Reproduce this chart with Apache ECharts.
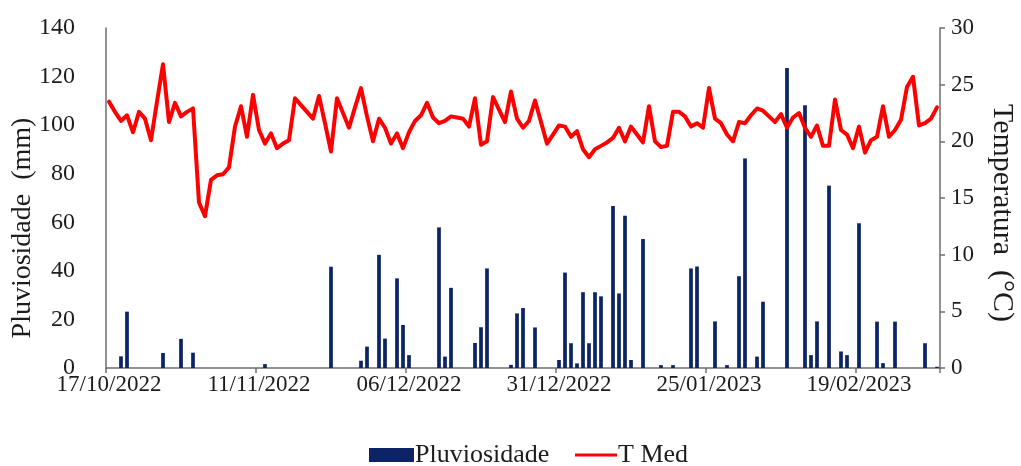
<!DOCTYPE html>
<html>
<head>
<meta charset="utf-8">
<script src="https://cdn.jsdelivr.net/npm/echarts@6/dist/echarts.min.js"></script>
<style>
  html, body { margin: 0; padding: 0; background: #ffffff; }
  #chart { width: 1021px; height: 466px; }
</style>
</head>
<body>
<div id="chart"></div>
<script>
// Daily series, 17/10/2022 to 04/03/2023
const startDate = [2022, 10, 17];
const dayCount = 139;

// Pluviosidade (mm), one value per day
const rainfall = [
  0, 0, 4.8, 23.2, 0, 0, 0, 0, 0, 6.2,
  0, 0, 12, 0, 6.3, 0, 0, 0, 0, 0,
  0, 0, 0, 0, 0, 0, 1.6, 0, 0, 0,
  0, 0, 0, 0, 0, 0, 0, 41.7, 0, 0,
  0, 0, 3.0, 8.8, 0, 46.6, 12.1, 0, 36.9, 17.7,
  5.3, 0, 0, 0, 0, 57.9, 4.7, 33.0, 0, 0,
  0, 10.3, 16.8, 41.0, 0, 0, 0, 1.3, 22.5, 24.7,
  0, 16.7, 0, 0, 0, 3.3, 39.3, 10.2, 1.9, 31.2,
  10.2, 31.2, 29.5, 0, 66.7, 30.7, 62.7, 3.3, 0, 53.1,
  0, 0, 1.2, 0, 1.2, 0, 0, 41.0, 41.8, 0,
  0, 19.2, 0, 1.2, 0, 37.8, 86.3, 0, 4.7, 27.3,
  0, 0, 0, 123.5, 0, 0, 108.2, 5.3, 19.2, 0,
  75.1, 0, 6.8, 5.3, 0, 59.6, 0, 0, 19.1, 2.0,
  0, 19.1, 0, 0, 0, 0, 10.2, 0, 0.5
];

// T Med (°C), one value per day
const tMed = [
  23.5, 22.6, 21.8, 22.3, 20.8, 22.6, 22.0, 20.1, 23.5, 26.8,
  21.7, 23.4, 22.2, 22.6, 22.9, 14.6, 13.4, 16.6, 17.0, 17.1,
  17.7, 21.3, 23.1, 20.4, 24.1, 21.0, 19.8, 20.7, 19.4, 19.8,
  20.1, 23.8, 23.2, 22.6, 22.0, 24.0, 21.6, 19.1, 23.8, 22.5,
  21.2, 23.0, 24.7, 22.2, 20.0, 22.0, 21.2, 19.8, 20.7, 19.4,
  20.8, 21.8, 22.3, 23.4, 22.1, 21.6, 21.8, 22.2, 22.1, 22.0,
  21.3, 23.8, 19.7, 20.0, 23.9, 22.8, 21.7, 24.4, 22.0, 21.2,
  21.8, 23.6, 21.7, 19.8, 20.6, 21.4, 21.3, 20.4, 20.9, 19.3,
  18.6, 19.3, 19.6, 19.9, 20.3, 21.2, 20.0, 21.3, 20.6, 19.9,
  23.1, 20.0, 19.5, 19.6, 22.6, 22.6, 22.2, 21.3, 21.6, 21.2,
  24.7, 22.0, 21.6, 20.6, 20.0, 21.7, 21.6, 22.3, 22.9, 22.7,
  22.2, 21.7, 22.4, 21.2, 22.1, 22.5, 21.2, 20.4, 21.4, 19.6,
  19.6, 23.7, 21.0, 20.6, 19.4, 21.3, 19.0, 20.1, 20.4, 23.1,
  20.4, 21.0, 21.9, 24.8, 25.7, 21.4, 21.6, 22.0, 23.0
];

// Axis ranges and tick labels
const rainTicks = [0, 20, 40, 60, 80, 100, 120, 140];
const tempTicks = [0, 5, 10, 15, 20, 25, 30];
const labelEvery = 25;
const rainTitle = 'Pluviosidade  (mm)';
const tempTitle = 'Temperatura  (°C)';

function pad(n) { return (n < 10 ? '0' : '') + n; }
const dates = [];
for (let i = 0; i < dayCount; i++) {
  const d = new Date(Date.UTC(startDate[0], startDate[1] - 1, startDate[2] + i));
  dates.push(pad(d.getUTCDate()) + '/' + pad(d.getUTCMonth() + 1) + '/' + d.getUTCFullYear());
}

const serif = '"Liberation Serif", "Times New Roman", serif';
const axisGray = '#6e6e6e';
const textColor = '#1c1c1c';
const navy = '#0c2366';
const red = '#ff0000';

const chart = echarts.init(document.getElementById('chart'), null, { renderer: 'canvas' });
chart.setOption({
  animation: false,
  backgroundColor: '#ffffff',
  grid: { left: 106, right: 81, top: 28, bottom: 98, containLabel: false },
  legend: [
    {
      data: [{ name: 'Pluviosidade', icon: 'rect' }],
      left: 364, top: 437,
      itemWidth: 45, itemHeight: 14, itemGap: 0,
      textStyle: { fontFamily: serif, fontSize: 26, color: textColor, padding: [0, 0, 0, -4] }
    },
    {
      data: [{ name: 'T Med', icon: 'rect' }],
      left: 570, top: 437,
      itemWidth: 42, itemHeight: 3, itemGap: 0,
      textStyle: { fontFamily: serif, fontSize: 26, color: textColor, padding: [0, 0, 0, -4] }
    }
  ],
  graphic: [
    {
      type: 'text', x: 23, y: 228, rotation: Math.PI / 2,
      style: { text: rainTitle, font: '28px ' + serif, fill: textColor, align: 'center', verticalAlign: 'middle' }
    },
    {
      type: 'text', x: 1002, y: 213, rotation: -Math.PI / 2,
      style: { text: tempTitle, font: '30px ' + serif, fill: textColor, align: 'center', verticalAlign: 'middle' }
    }
  ],
  xAxis: {
    type: 'category',
    data: dates,
    boundaryGap: true,
    axisLine: { show: true, lineStyle: { color: axisGray, width: 1.5 } },
    axisTick: { show: true, interval: labelEvery - 1, length: 5, lineStyle: { color: axisGray, width: 1.5 } },
    axisLabel: {
      interval: labelEvery - 1,
      fontFamily: serif, fontSize: 23, color: textColor, margin: 5
    },
    splitLine: { show: false }
  },
  yAxis: [
    {
      type: 'value',
      min: rainTicks[0], max: rainTicks[rainTicks.length - 1], interval: rainTicks[1] - rainTicks[0],
      axisLine: { show: true, lineStyle: { color: axisGray, width: 1.5 } },
      axisTick: { show: false },
      axisLabel: { fontFamily: serif, fontSize: 24, color: textColor, margin: 31 },
      splitLine: { show: false }
    },
    {
      type: 'value',
      position: 'right',
      min: tempTicks[0], max: tempTicks[tempTicks.length - 1], interval: tempTicks[1] - tempTicks[0],
      axisLine: { show: true, lineStyle: { color: axisGray, width: 1.5 } },
      axisTick: { show: true, inside: false, length: 5, lineStyle: { color: axisGray, width: 1.5 } },
      axisLabel: { fontFamily: serif, fontSize: 23, color: textColor, margin: 11 },
      splitLine: { show: false }
    }
  ],
  series: [
    {
      name: 'Pluviosidade',
      type: 'bar',
      yAxisIndex: 0,
      data: rainfall,
      barWidth: '62%',
      itemStyle: { color: navy },
      z: 2
    },
    {
      name: 'T Med',
      type: 'line',
      yAxisIndex: 1,
      data: tMed,
      symbol: 'none',
      lineStyle: { color: red, width: 4, join: 'round', cap: 'round' },
      itemStyle: { color: red },
      z: 3
    }
  ]
});
</script>
</body>
</html>
